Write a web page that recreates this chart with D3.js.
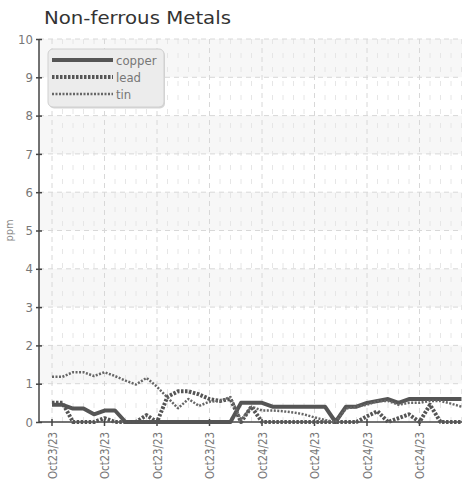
<!DOCTYPE html>
<html>
<head>
<meta charset="utf-8">
<script src="https://cdn.jsdelivr.net/npm/d3@7"></script>
<style>
  body { margin: 0; background: #fff; }
  .tick-label { font-family: "Liberation Sans Narrow", "DejaVu Sans Condensed", sans-serif; fill: #777; }
</style>
</head>
<body>
<svg id="chart" width="474" height="482"></svg>
<script>
// values, one per sample
const copper = [0.45,0.45,0.35,0.35,0.2,0.3,0.3,0,0,0,0,0,0,0,0,0,0,0,0.5,0.5,
                0.5,0.4,0.4,0.4,0.4,0.4,0.4,0,0.4,0.4,0.5,0.55,0.6,0.5,0.6,0.6,0.6,0.6,0.6,0.6];
const lead   = [0.5,0.5,0,0,0,0.1,0,0,0,0.18,0,0.66,0.8,0.8,0.72,0.6,0.55,0.6,0,0.4,
                0,0,0,0,0,0,0,0,0,0,0.15,0.28,0,0.1,0.2,0,0.45,0,0,0];
const tin    = [1.18,1.18,1.3,1.3,1.2,1.3,1.2,1.08,0.98,1.15,0.92,0.64,0.36,0.6,0.42,0.53,0.55,0.65,0.05,0.4,
                0.3,0.3,0.28,0.25,0.2,0.12,0.05,0,0.35,0.4,0.45,0.55,0.55,0.45,0.5,0.5,0.55,0.55,0.48,0.4];
const tickIndex  = [0,5,10,15,20,25,30,35];
const tickLabels = ["Oct23/23","Oct23/23","Oct23/23","Oct23/23","Oct24/23","Oct24/23","Oct24/23","Oct24/23"];
const yTicks = [0,1,2,3,4,5,6,7,8,9,10];
const seriesNames = ["copper","lead","tin"];

const svg = d3.select("#chart");
const plot = { left: 39, right: 462, top: 39, bottom: 422 };

const x = d3.scaleLinear().domain([0, copper.length - 1]).range([52, 461.5]);
const y = d3.scaleLinear().domain([0, 10]).range([plot.bottom, plot.top]);

// alternating bands
svg.selectAll("rect.band")
  .data(yTicks.slice(0, -1).filter(d => d % 2 === 1))
  .enter().append("rect")
  .attr("x", plot.left).attr("width", plot.right - plot.left)
  .attr("y", d => y(d + 1)).attr("height", d => y(d) - y(d + 1))
  .attr("fill", "#f7f7f7");

// minor vertical grid
const minor = d3.range(1, copper.length).filter(i => i % 5 !== 0);
svg.selectAll("line.minor").data(minor).enter().append("line")
  .attr("x1", d => x(d)).attr("x2", d => x(d))
  .attr("y1", plot.top).attr("y2", plot.bottom)
  .attr("stroke", "#e6e6e6").attr("stroke-width", 1)
  .attr("stroke-dasharray", "5,9");

// major vertical grid
svg.selectAll("line.vgrid").data(tickIndex).enter().append("line")
  .attr("x1", d => x(d)).attr("x2", d => x(d))
  .attr("y1", plot.top).attr("y2", plot.bottom)
  .attr("stroke", "#d8d8d8").attr("stroke-width", 1)
  .attr("stroke-dasharray", "5,4");

// horizontal grid
svg.selectAll("line.hgrid").data(yTicks.slice(1)).enter().append("line")
  .attr("x1", plot.left).attr("x2", plot.right)
  .attr("y1", d => y(d)).attr("y2", d => y(d))
  .attr("stroke", "#d8d8d8").attr("stroke-width", 1)
  .attr("stroke-dasharray", "5,4");

// axes
const yAxis = svg.append("g").attr("transform", `translate(${plot.left},0)`)
  .call(d3.axisLeft(y).tickValues(yTicks).tickSize(3).tickPadding(4));
yAxis.select(".domain").remove();
yAxis.selectAll(".tick line").attr("x1", -3).attr("x2", 3).attr("stroke", "#444").attr("stroke-width", 1.5);
yAxis.selectAll(".tick text").attr("class", "tick-label").attr("font-size", 13).attr("x", -6);

svg.append("line").attr("x1", plot.left).attr("x2", plot.left).attr("y1", plot.top).attr("y2", plot.bottom)
  .attr("stroke", "#444").attr("stroke-width", 1.5);
svg.append("line").attr("x1", plot.left).attr("x2", plot.right).attr("y1", plot.bottom).attr("y2", plot.bottom)
  .attr("stroke", "#444").attr("stroke-width", 1.5);

const xt = svg.selectAll("g.xtick").data(tickIndex).enter().append("g")
  .attr("transform", d => `translate(${x(d)},${plot.bottom})`);
xt.append("line").attr("y1", -3).attr("y2", 4).attr("stroke", "#444").attr("stroke-width", 1.5);
xt.append("text").attr("class", "tick-label")
  .attr("font-size", 13)
  .attr("textLength", 47).attr("lengthAdjust", "spacingAndGlyphs")
  .attr("transform", "translate(0,10) rotate(-90)")
  .attr("text-anchor", "end").attr("dy", "0.35em")
  .text((d, i) => tickLabels[i]);

// y label
svg.append("text").attr("transform", `translate(13,${(plot.top + plot.bottom) / 2}) rotate(-90)`)
  .attr("text-anchor", "middle").attr("font-family", "Liberation Sans Narrow, DejaVu Sans Condensed, sans-serif")
  .attr("font-size", 11).attr("fill", "#888").text("ppm");

// title
svg.append("text").attr("x", 44).attr("y", 24)
  .attr("font-family", "DejaVu Sans, sans-serif").attr("font-size", 18.5).attr("fill", "#333")
  .attr("textLength", 187).attr("lengthAdjust", "spacingAndGlyphs")
  .text("Non-ferrous Metals");

// lines
const styles = [
  { width: 4, dash: null, color: "#555" },
  { width: 4, dash: "2.5,1.5", color: "#555" },
  { width: 2.5, dash: "2,1.5", color: "#666" }
];
const line = d3.line().x((d, i) => x(i)).y(d => y(d));
[copper, lead, tin].forEach((s, k) => {
  svg.append("path").datum(s)
    .attr("d", line)
    .attr("fill", "none")
    .attr("stroke", styles[k].color)
    .attr("stroke-width", styles[k].width)
    .attr("stroke-dasharray", styles[k].dash)
    .attr("stroke-linejoin", "round");
});

// legend
const lg = svg.append("g").attr("transform", "translate(48,49)");
lg.append("rect").attr("x", 1).attr("y", 1.5).attr("width", 116).attr("height", 58).attr("rx", 5)
  .attr("fill", "#bbb").attr("opacity", 0.6);
lg.append("rect").attr("width", 116).attr("height", 58).attr("rx", 5)
  .attr("fill", "#ececec").attr("stroke", "#d0d0d0");
const items = lg.selectAll("g.item").data(seriesNames).enter().append("g")
  .attr("transform", (d, i) => `translate(0,${11 + i * 17})`);
items.append("line").attr("x1", 4).attr("x2", 65)
  .attr("stroke", (d, i) => styles[i].color)
  .attr("stroke-width", (d, i) => styles[i].width)
  .attr("stroke-dasharray", (d, i) => styles[i].dash);
items.append("text").attr("class", "tick-label").attr("x", 68).attr("dy", "0.35em")
  .attr("font-size", 13).text(d => d);
</script>
</body>
</html>
